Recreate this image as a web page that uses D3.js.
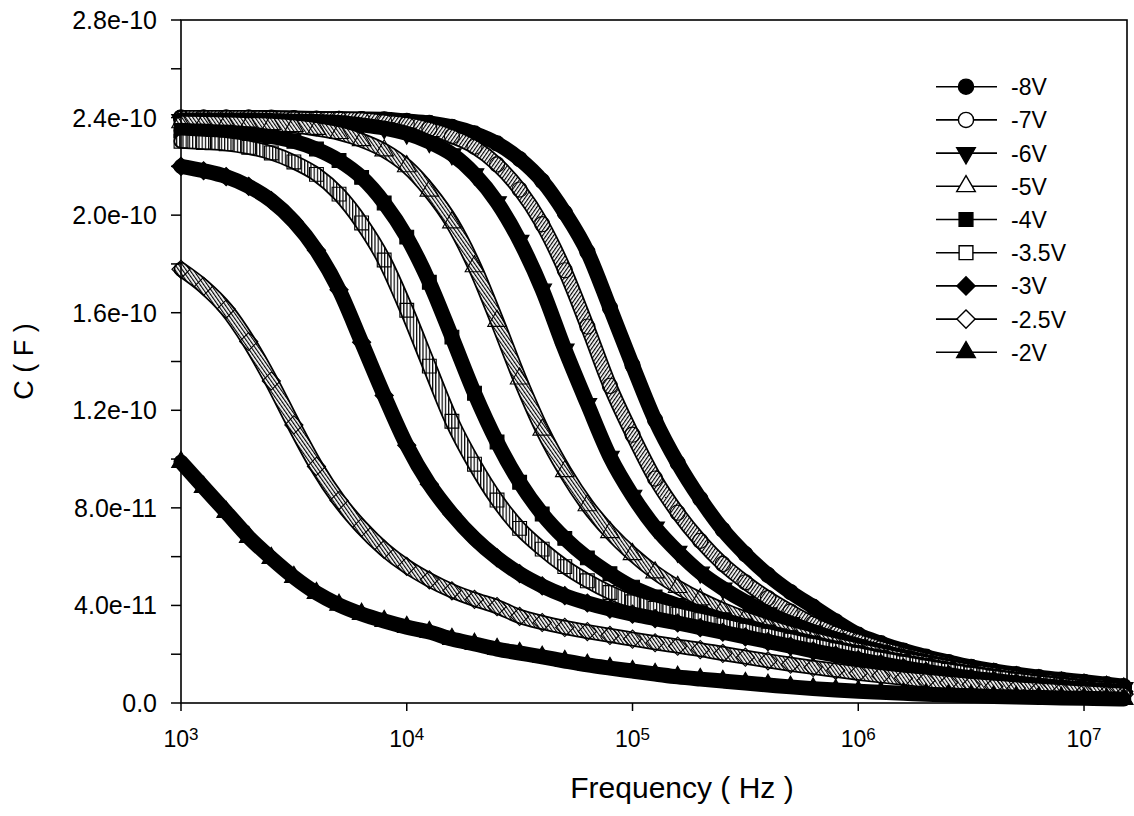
<!DOCTYPE html>
<html>
<head>
<meta charset="utf-8">
<script src="https://cdn.jsdelivr.net/npm/d3@7"></script>
<style>
  body { margin: 0; background: #fff; }
  svg { display: block; }
  text { font-family: "Liberation Sans", Arial, sans-serif; fill: #000; }
</style>
</head>
<body>
<svg id="chart" width="1134" height="816"></svg>
<script>
// Frequency sweep (Hz)
const frequency = [1000, 1259, 1585, 1995, 2512, 3162, 3981, 5012, 6310, 7943,
  10000, 12589, 15849, 19953, 25119, 31623, 39811, 50119, 63096, 79433,
  100000, 125893, 158489, 199526, 251189, 316228, 398107, 501187, 630957, 794328,
  1000000, 1258925, 1584893, 1995262, 2511886, 3162278, 3981072, 5011872, 6309573, 7943282,
  10000000, 12589254, 15000000];

// Gate bias of each sweep
const biasLabels = ["-8V", "-7V", "-6V", "-5V", "-4V", "-3.5V", "-3V", "-2.5V", "-2V"];

// Measured capacitance, in pF
const cap_m8V = [240, 240, 240, 240, 240, 239.8, 239.6, 239.5, 239.4, 239.3, 238.6, 237.8, 236.2, 233.5, 229.4, 223, 214, 201, 185, 162, 138.5, 116, 98.4, 83.7, 71, 61, 52.5, 45.5, 39.5, 33.5, 28, 24.5, 21.5, 19, 16.8, 14.8, 13.2, 11.8, 10.6, 9.6, 8.7, 7.7, 6.9];
const cap_m7V = [240, 240, 240, 240, 239.8, 239.6, 239.5, 239.5, 239.3, 238.4, 237.4, 235.4, 232.3, 228, 220.8, 210.5, 196.3, 177.4, 154.3, 130, 110, 92, 78, 66.5, 57, 49.5, 43, 37.5, 32.5, 28.5, 25.5, 22.5, 20, 17.8, 15.8, 14, 12.5, 11.1, 9.9, 8.8, 7.9, 7, 6.3];
const cap_m6V = [239, 239, 239, 239, 238.8, 238.5, 238.4, 238, 237, 235.7, 233.5, 230, 225, 216.8, 205.3, 189.5, 169.5, 145, 122.6, 101, 85, 72, 62, 53.5, 47, 41.5, 36.8, 32.8, 29.3, 26.3, 23.6, 21.2, 19, 17, 15.2, 13.6, 12.1, 10.8, 9.6, 8.6, 7.7, 6.9, 6.2];
const cap_m5V = [238, 237.9, 237.7, 237.4, 237.2, 236.5, 235.3, 233.6, 230.7, 226.5, 220, 210, 197, 179, 156.6, 133, 112, 95, 81, 70, 61, 53.5, 47.5, 42.5, 38.3, 34.7, 31.6, 28.8, 26.3, 24, 21.9, 19.9, 18, 16.3, 14.7, 13.2, 11.8, 10.5, 9.3, 8.3, 7.4, 6.6, 5.9];
const cap_m4V = [234.7, 234.4, 234, 233.3, 232.2, 230.3, 227.1, 222.4, 215.5, 205, 191, 172.5, 150, 127, 107, 90.5, 77.5, 67.5, 59.5, 53, 47.5, 43.5, 40, 37, 34.2, 31.6, 29.1, 26.8, 24.6, 22.5, 20.6, 18.8, 17, 15.4, 13.8, 12.4, 11, 9.8, 8.7, 7.7, 6.8, 6, 5.4];
const cap_m3p5V = [230.3, 229.8, 229.2, 227.8, 225.5, 221.8, 216.7, 208.6, 196.8, 181.6, 161, 138.1, 115.5, 97.9, 83.2, 71.6, 63.1, 55.9, 50.1, 45.3, 41.5, 38.8, 36.4, 34.2, 32, 29.9, 27.8, 25.8, 23.8, 21.9, 20, 18.2, 16.5, 14.9, 13.4, 12, 10.7, 9.5, 8.4, 7.4, 6.5, 5.8, 5.2];
const cap_m3V = [220, 218.2, 215.8, 211.8, 206, 197.4, 185.6, 169.4, 147.9, 126.1, 105.7, 89.7, 77.5, 67.5, 59.5, 53, 48, 44, 41, 38.5, 36.4, 34.6, 32.8, 30.9, 29, 27.1, 25.2, 23.3, 21.4, 19.6, 17.8, 16.1, 14.5, 13, 11.6, 10.3, 9.2, 8.2, 7.3, 6.5, 5.8, 5.2, 4.7];
const cap_m2p5V = [177.8, 170.8, 161.5, 148.2, 132, 114, 97, 83, 72, 63, 56, 50.5, 46, 42.5, 39.5, 35.5, 33, 31, 29.3, 27.7, 26.2, 24.7, 23.3, 21.9, 20.3, 18.8, 17.3, 15.9, 14.6, 13.4, 12.2, 11.1, 10.1, 9.2, 8.3, 7.5, 6.8, 6.1, 5.5, 4.9, 4.4, 3.9, 3.5];
const cap_m2V = [98.8, 88.5, 78.3, 68, 59.4, 51.6, 45.1, 40.2, 36.5, 33.6, 31.1, 29.1, 26.2, 24.2, 22.1, 20.5, 18.9, 17.2, 15.6, 14.3, 13.1, 11.9, 10.7, 9.8, 9, 8.2, 7.4, 6.6, 5.9, 5.3, 4.8, 4.4, 4, 3.6, 3.3, 3, 2.7, 2.5, 2.3, 2.1, 1.9, 1.7, 1.6];

const seriesValues = [cap_m8V, cap_m7V, cap_m6V, cap_m5V, cap_m4V, cap_m3p5V, cap_m3V, cap_m2p5V, cap_m2V];

// Axis ticks
const yTickValues = [0, 40, 80, 120, 160, 200, 240, 280];
const yTickLabels = ["0.0", "4.0e-11", "8.0e-11", "1.2e-10", "1.6e-10", "2.0e-10", "2.4e-10", "2.8e-10"];
const yMinorValues = [20, 60, 100, 140, 180, 220, 260];
const xTickValues = [1e3, 1e4, 1e5, 1e6, 1e7];
const xTickExponents = ["3", "4", "5", "6", "7"];

// ---- layout ----
const plotL = 181, plotR = 1127, plotT = 20, plotB = 703;
const svg = d3.select("#chart");

const x = d3.scaleLog().domain([1e3, 1.55e7]).range([plotL, plotR]);
const y = d3.scaleLinear().domain([0, 280]).range([plotB, plotT]);

// Marker style per series (same order as biasLabels)
const markerStyles = [
  { type: d3.symbolCircle,   filled: true,  rotate: 0,   size: 180, hatch: "hatchDiag" },
  { type: d3.symbolCircle,   filled: false, rotate: 0,   size: 180, hatch: "hatchDiag" },
  { type: d3.symbolTriangle, filled: true,  rotate: 180, size: 150, hatch: "hatchDiag" },
  { type: d3.symbolTriangle, filled: false, rotate: 0,   size: 150, hatch: "hatchDiag2" },
  { type: d3.symbolSquare,   filled: true,  rotate: 0,   size: 190, hatch: "hatchVert" },
  { type: d3.symbolSquare,   filled: false, rotate: 0,   size: 190, hatch: "hatchVert" },
  { type: d3.symbolSquare,   filled: true,  rotate: 45,  size: 165, hatch: "hatchDiag" },
  { type: d3.symbolSquare,   filled: false, rotate: 45,  size: 165, hatch: "hatchDiag2" },
  { type: d3.symbolTriangle, filled: true,  rotate: 0,   size: 150, hatch: "hatchDiag" }
];

// hatch patterns used for the bands of hollow markers
const defs = svg.append("defs");
function hatch(id, angle, gap) {
  const p = defs.append("pattern").attr("id", id)
    .attr("patternUnits", "userSpaceOnUse")
    .attr("width", gap).attr("height", 8)
    .attr("patternTransform", `rotate(${angle})`);
  p.append("rect").attr("width", gap).attr("height", 8).attr("fill", "#fff");
  p.append("rect").attr("width", 1.2).attr("height", 8).attr("fill", "#000");
}
hatch("hatchVert", 0, 3.2);
hatch("hatchDiag", 35, 3.0);
hatch("hatchDiag2", -35, 3.0);

const line = d3.line()
  .x((d, i) => x(frequency[i]))
  .y(d => y(d))
  .curve(d3.curveMonotoneX);

const plot = svg.append("g");
seriesValues.forEach((vals, k) => {
  const st = markerStyles[k];
  const g = plot.append("g");
  // thick band traced by the overlapping markers
  g.append("path").attr("d", line(vals))
    .attr("fill", "none").attr("stroke", "#000")
    .attr("stroke-width", 15).attr("stroke-linejoin", "round").attr("stroke-linecap", "round");
  if (!st.filled) {
    g.append("path").attr("d", line(vals))
      .attr("fill", "none").attr("stroke", `url(#${st.hatch})`)
      .attr("stroke-width", 11.5).attr("stroke-linejoin", "round").attr("stroke-linecap", "round");
  }
  const sym = d3.symbol().type(st.type).size(st.size);
  g.selectAll("path.mk").data(vals).join("path")
    .attr("class", "mk")
    .attr("d", sym)
    .attr("transform", (d, i) => `translate(${x(frequency[i])},${y(d)}) rotate(${st.rotate})`)
    .attr("fill", st.filled ? "#000" : "none")
    .attr("stroke", "#000").attr("stroke-width", 1.1);
});

// ---- frame and axes ----
svg.append("rect")
  .attr("x", plotL).attr("y", plotT).attr("width", plotR - plotL).attr("height", plotB - plotT)
  .attr("fill", "none").attr("stroke", "#000").attr("stroke-width", 1.6);

const yAxis = svg.append("g");
yAxis.selectAll("line.major").data(yTickValues).join("line")
  .attr("class", "major")
  .attr("x1", plotL - 10).attr("x2", plotL)
  .attr("y1", d => y(d)).attr("y2", d => y(d))
  .attr("stroke", "#000").attr("stroke-width", 1.5);
yAxis.selectAll("line.minor").data(yMinorValues).join("line")
  .attr("class", "minor")
  .attr("x1", plotL - 10).attr("x2", plotL)
  .attr("y1", d => y(d)).attr("y2", d => y(d))
  .attr("stroke", "#000").attr("stroke-width", 1.5);
yAxis.selectAll("text").data(yTickValues).join("text")
  .attr("x", 157).attr("y", d => y(d) + 9)
  .attr("text-anchor", "end").attr("font-size", 25)
  .text((d, i) => yTickLabels[i]);

const xAxis = svg.append("g");
xAxis.selectAll("line").data(xTickValues).join("line")
  .attr("x1", d => x(d)).attr("x2", d => x(d))
  .attr("y1", plotB).attr("y2", plotB + 8)
  .attr("stroke", "#000").attr("stroke-width", 1.5);
xAxis.selectAll("text").data(xTickValues).join("text")
  .attr("x", d => x(d)).attr("y", 747)
  .attr("text-anchor", "middle").attr("font-size", 23)
  .each(function (d, i) {
    const t = d3.select(this);
    t.append("tspan").text("10");
    t.append("tspan").attr("font-size", 17).attr("dy", -7).text(xTickExponents[i]);
  });

// axis titles
svg.append("text")
  .attr("x", 682).attr("y", 798)
  .attr("text-anchor", "middle").attr("font-size", 30)
  .text("Frequency ( Hz )");
svg.append("text")
  .attr("transform", `translate(33,${(plotT + plotB) / 2}) rotate(-90)`)
  .attr("text-anchor", "middle").attr("font-size", 27)
  .text("C ( F )");

// ---- legend ----
const legend = svg.append("g");
biasLabels.forEach((lab, k) => {
  const st = markerStyles[k];
  const ly = 86.7 + k * 33.2;
  legend.append("line").attr("x1", 936).attr("x2", 997)
    .attr("y1", ly).attr("y2", ly).attr("stroke", "#000").attr("stroke-width", 1.6);
  legend.append("path")
    .attr("d", d3.symbol().type(st.type).size(st.size)())
    .attr("transform", `translate(966,${ly}) rotate(${st.rotate})`)
    .attr("fill", st.filled ? "#000" : "#fff")
    .attr("stroke", "#000").attr("stroke-width", 1.4);
  legend.append("text").attr("x", 1011).attr("y", ly + 8.5)
    .attr("font-size", 23).text(lab);
});
</script>
</body>
</html>
